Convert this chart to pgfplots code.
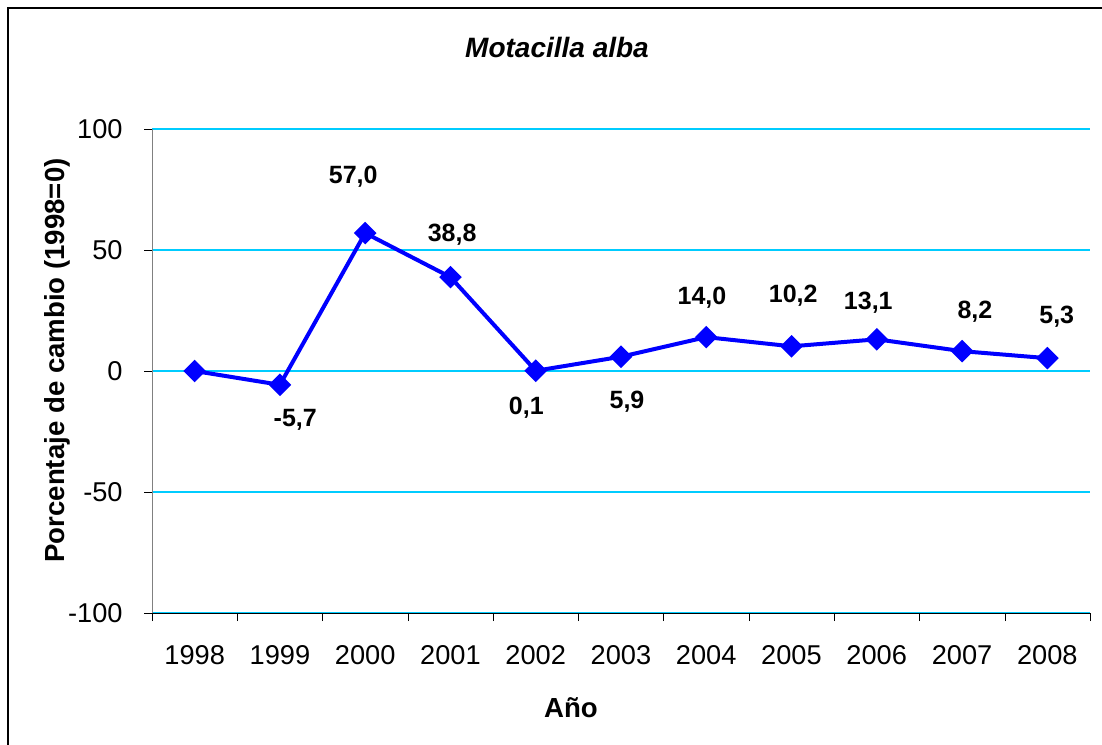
\documentclass[border=0pt]{standalone}
\usepackage{fontspec}
\setmainfont{Liberation Sans}
\usepackage{pgfplots}
\pgfplotsset{compat=1.18}
\definecolor{gridcyan}{RGB}{0,204,255}
\definecolor{lineblue}{RGB}{0,0,255}
\begin{document}
\begin{tikzpicture}[x=1pt,y=1pt]
  % 1 px of the reference = 0.5pt, origin at its top left corner
  \begin{axis}[
      at={(76pt,-306.5pt)}, anchor=south west,
      scale only axis, width=469pt, height=242pt,
      xmin=1997.5, xmax=2008.5, ymin=-100, ymax=100,
      axis x line*=bottom, axis y line*=left,
      x axis line style={black, -},
      y axis line style={gray, -},
      xtick={1997.5,1998.5,...,2008.5},
      xticklabels={},
      extra x ticks={1998,...,2008},
      extra x tick labels={1998,1999,2000,2001,2002,2003,2004,2005,2006,2007,2008},
      extra x tick style={major tick length=0pt,
        xticklabel style={anchor=center, yshift=-21pt}},
      ytick={-100,-50,0,50,100},
      yticklabels={-100,-50,0,50,100},
      tick style={black},
      major tick length=4pt,
      tick align=outside,
      ymajorgrids, grid style={gridcyan, line width=0.6pt},
      ticklabel style={font=\fontsize{13.6}{16}\selectfont},
      yticklabel style={anchor=east, inner sep=0pt, xshift=-10.5pt},
      clip=false,
    ]
    \addplot[lineblue, line width=2pt, mark=square*,
      mark options={solid, rotate=45, fill=lineblue}, mark size=3pt]
      table {
        x    y
        1998 0.0
        1999 -5.7
        2000 57.0
        2001 38.8
        2002 0.1
        2003 5.9
        2004 14.0
        2005 10.2
        2006 13.1
        2007 8.2
        2008 5.3
      };
    \addplot[draw=none, mark=none, nodes near coords,
      point meta=explicit symbolic,
      nodes near coords style={anchor=center, inner sep=0pt,
        font=\fontsize{12.5}{15}\selectfont\bfseries}]
      table[meta=lab] {
        x       y     lab
        1999.18 -20.0 -5,7
        1999.86 80.4  57,0
        2001.02 56.4  38,8
        2001.89 -15.1 0,1
        2003.07 -12.6 5,9
        2003.95 30.4  14,0
        2005.02 31.0  10,2
        2005.90 28.3  13,1
        2007.15 24.6  8,2
        2008.11 22.5  5,3
      };
  \end{axis}
  \node[font=\fontsize{14}{17}\selectfont\bfseries\itshape] at (278.5pt,-23.5pt) {Motacilla alba};
  \node[font=\fontsize{13.8}{16}\selectfont\bfseries] at (285.5pt,-354pt) {Año};
  \node[font=\fontsize{13.8}{16}\selectfont\bfseries, rotate=90] at (28.5pt,-180.25pt) {Porcentaje de cambio (1998=0)};
  \draw[black, line width=1pt] (4pt,-380pt) -- (4pt,-4pt) -- (560pt,-4pt);
  \pgfresetboundingbox
  \path[use as bounding box] (0pt,0pt) rectangle (551pt,-372pt);
\end{tikzpicture}
\end{document}
